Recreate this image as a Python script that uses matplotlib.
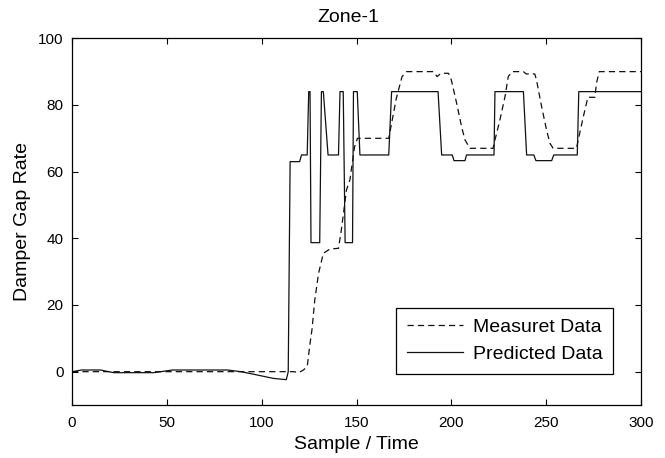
import matplotlib
matplotlib.use("Agg")
import matplotlib.pyplot as plt

plt.rcParams['font.family'] = ['Liberation Sans', 'DejaVu Sans']

measured_x = [0, 117, 119.5, 122, 124, 125.5, 126.5, 128, 130, 132.5, 136, 140.5, 142,
              144.7, 146.5, 149, 150.5, 167, 168.5, 171, 174, 176.4, 190.5, 192.5,
              194.5, 198.5, 200, 202.8, 205.4, 207.2, 209.8, 222, 223, 225.6, 228.3,
              230, 232, 238, 239.5, 244, 244.9, 247.6, 250.2, 252, 253.7, 266,
              266.9, 269.6, 272, 275.7, 276.5, 278, 300]
measured_y = [0, 0, -0.3, 0.5, 1.5, 8.5, 12.5, 21.5, 29.5, 35.5, 36.8, 37, 42.5,
              54.5, 57.5, 67.5, 70, 70, 74.5, 82, 88.5, 90, 90, 88.5,
              89.5, 89.5, 87.5, 80.5, 73.5, 69.5, 67, 67, 69.5, 75.5, 82.5,
              88.5, 90, 90, 89.3, 89.3, 87.5, 79.5, 72.5, 68.5, 67, 67,
              69.5, 76.5, 82.3, 82.3, 86.5, 90, 90]

# Predicted data (solid)
predicted_x = [0, 5, 15, 22, 43, 53, 82, 89, 96, 106, 113, 114, 115, 120, 121, 124,
               124.8, 125.5, 126, 130.6, 131.5, 132.5, 135, 140.5, 141.3, 143, 144,
               147.9, 148.4, 150.4, 151.8, 167, 168.5, 193, 194.9, 200.5, 201.4, 207.2,
               208, 222.5, 223, 238, 239.7, 243.5, 244.6, 252.9, 254, 266.4, 267.2, 300]
predicted_y = [0, 0.5, 0.5, -0.3, -0.3, 0.5, 0.5, 0, -0.8, -2, -2.4, 0, 63, 63, 65, 65,
               84, 84, 38.7, 38.7, 84, 84, 65, 65, 84, 84, 38.7,
               38.7, 84, 84, 65, 65, 84, 84, 65, 65, 63.3, 63.3,
               65, 65, 84, 84, 65, 65, 63.3, 63.3, 65, 65, 84, 84]

x_ticks = [0, 50, 100, 150, 200, 250, 300]
y_ticks = [0, 20, 40, 60, 80, 100]

fig = plt.figure(figsize=(6.65, 4.58), dpi=100)
ax = fig.add_axes([0.1083, 0.1157, 0.8556, 0.8007])

ln1, = ax.plot(measured_x, measured_y, color='#111111', lw=0.9, linestyle='--',
               label='Measuret Data')
ln1.set_dashes((5, 3.3))
ax.plot(predicted_x, predicted_y, color='#111111', lw=0.9, linestyle='-',
        label='Predicted Data')

ax.set_xlim(0, 300)
ax.set_ylim(-10, 100)
ax.set_xticks(x_ticks)
ax.set_yticks(y_ticks)
ax.tick_params(direction='in', top=True, right=True, length=4, width=0.8,
               labelsize=11, pad=6)
ax.tick_params(axis='x', pad=8)
for s in ax.spines.values():
    s.set_linewidth(0.9)

ax.set_xlabel('Sample / Time', fontsize=14, labelpad=4)
ax.set_ylabel('Damper Gap Rate', fontsize=14, labelpad=5)
ax.set_title('Zone-1', fontsize=14, pad=12, x=0.486)

leg = ax.legend(loc='lower right', bbox_to_anchor=(0.951, 0.085), fontsize=14,
                frameon=True, fancybox=False, edgecolor='black', framealpha=1,
                handlelength=2.9, borderpad=0.55, labelspacing=0.5, handletextpad=0.5,
                borderaxespad=0.0)
leg.get_frame().set_linewidth(0.9)

fig.savefig('out.png', dpi=100)
